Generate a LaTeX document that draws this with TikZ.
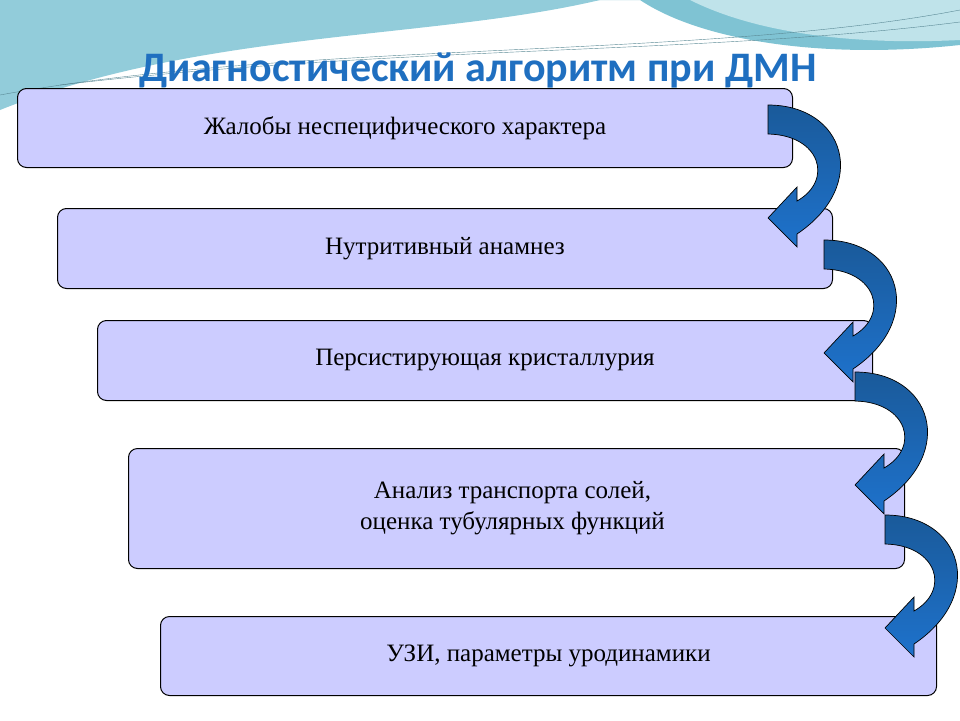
\documentclass[tikz,border=0pt]{standalone}
\usepackage{fontspec}
\setmainfont{Liberation Serif}
\newfontfamily\titlefont{Carlito}
\definecolor{boxfill}{HTML}{CCCCFF}
\definecolor{titleblue}{HTML}{1F6FC0}
\definecolor{seablue}{HTML}{7FC3D3}
\definecolor{seapale}{HTML}{BFE3EA}
\definecolor{arrowdark}{HTML}{1A5A9A}
\definecolor{arrowlight}{HTML}{1E72CC}
\def\bendarrow{(768,105) .. controls (845,105) and (870,185) .. (797,234)
  -- (797,247) -- (768,218) -- (797,187) -- (797,201)
  .. controls (834,180) and (820,135) .. (768,134) -- cycle}
\tikzset{
  step box/.style={draw=black, line width=1pt, fill=boxfill, rounded corners=9pt, anchor=north west,
    inner sep=0pt, font=\fontsize{25}{31}\selectfont, align=center},
  bend shape/.style={draw=black, line width=0.7pt, top color=arrowdark, bottom color=arrowlight}
}
\begin{document}
\begin{tikzpicture}[x=1pt,y=-1pt]
      \useasboundingbox (0,0) rectangle (960,720);

      % Background
      \fill[seablue] (0,0) -- (960,0) -- (960,45) .. controls (820,60) and (700,40) .. (640,0) -- cycle;
      \fill[seapale] (690,0) .. controls (760,35) and (860,45) .. (960,40) -- (960,0) -- cycle;
      \fill[seablue!85] (0,0) -- (600,0) .. controls (430,40) and (200,30) .. (0,110) -- cycle;
      \draw[seablue!70!black, thin] (0,95) .. controls (300,40) and (700,60) .. (960,10);
      \draw[seablue!70!black, thin] (60,85) .. controls (400,45) and (700,55) .. (960,22);

      % Title
      \node (title) at (478,70) {\titlefont\bfseries\fontsize{42}{48}\selectfont\color{titleblue}Диагностический алгоритм при ДМН};

      % Steps
      \node[step box, minimum width=775pt, minimum height=79pt] (b1) at (17,88) {Жалобы неспецифического характера};
      \node[step box, minimum width=775pt, minimum height=80pt] (b2) at (57,208) {Нутритивный анамнез};
      \node[step box, minimum width=775pt, minimum height=80pt] (b3) at (97,320) {Персистирующая кристаллурия};
      \node[step box, minimum width=776pt, minimum height=120pt] (b4) at (128,448) {\hspace*{-8pt}Анализ транспорта солей,\\\hspace*{-8pt}оценка тубулярных функций};
      \node[step box, minimum width=776pt, minimum height=79pt] (b5) at (160,616) {УЗИ, параметры уродинамики};

      % Arrows
      \foreach \dx/\dy in {0/0, 56/135, 87/267, 117/410}
        \path[bend shape, shift={(\dx,\dy)}] \bendarrow;
\end{tikzpicture}
\end{document}
